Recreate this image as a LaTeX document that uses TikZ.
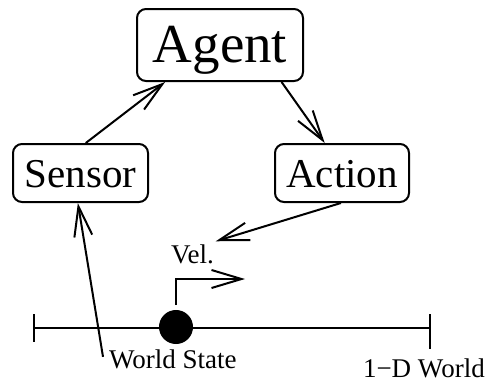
\documentclass[tikz,border=0pt]{standalone}
\usepackage{fontspec}
\setmainfont{Liberation Serif}
\usetikzlibrary{arrows.meta,calc}
\begin{document}
\begin{tikzpicture}[x=1pt,y=-1pt,
  line width=2pt,
  box/.style={draw,rounded corners=9pt,inner sep=0pt,align=center},
  lbl/.style={inner sep=0pt,font=\fontsize{27}{30}\selectfont},
  arr/.style={-{Straight Barb[length=30pt,width=18pt]}},
]
\useasboundingbox (0,0) rectangle (491,383);

% control loop boxes
\node[box,minimum width=166pt,minimum height=72pt,text height=40pt,text depth=6pt,
      font=\fontsize{55}{60}\selectfont] (agent) at (220,45) {Agent};
\node[box,minimum width=135pt,minimum height=58pt,text height=30pt,text depth=2pt,
      font=\fontsize{41}{45}\selectfont] (sensor) at (80.5,173) {Sensor};
\node[box,minimum width=134pt,minimum height=58pt,text height=30pt,text depth=2pt,
      font=\fontsize{41}{45}\selectfont] (action) at (342,173) {Action};

% one-dimensional world
\coordinate (wl) at (34,328);
\coordinate (wr) at (430,328);
\draw (wl) -- (wr);
\draw ($(wl)+(0,-14)$) -- ($(wl)+(0,14)$);
\draw ($(wr)+(0,-14)$) -- ($(wr)+(0,21)$);
\node[circle,fill,draw,minimum size=32pt,inner sep=0pt] (dot) at (176,327) {};

% labels
\node[lbl,anchor=base west] (vel) at (170,263) {Vel.};
\node[lbl,anchor=base west] (ws) at (108,368) {World State};
\node[lbl,anchor=base west] (w1d) at (362,377) {1−D World};

% velocity indicator
\coordinate (vbend) at (176,279);
\coordinate (vtip) at (245,279);
\draw[arr] ($(dot.north)+(0,-5)$) -- (vbend) -- (vtip);

% connectors
\draw[arr] (sensor.80) -- (agent.214);
\draw[arr] (agent.-31) -- (action.120);
\draw[arr] (action.-92) -- ($(vel.north east)+(1,-2)$);
\draw[arr] ($(ws.west)+(-5,-2)$) -- (sensor.-95);
\end{tikzpicture}
\end{document}
